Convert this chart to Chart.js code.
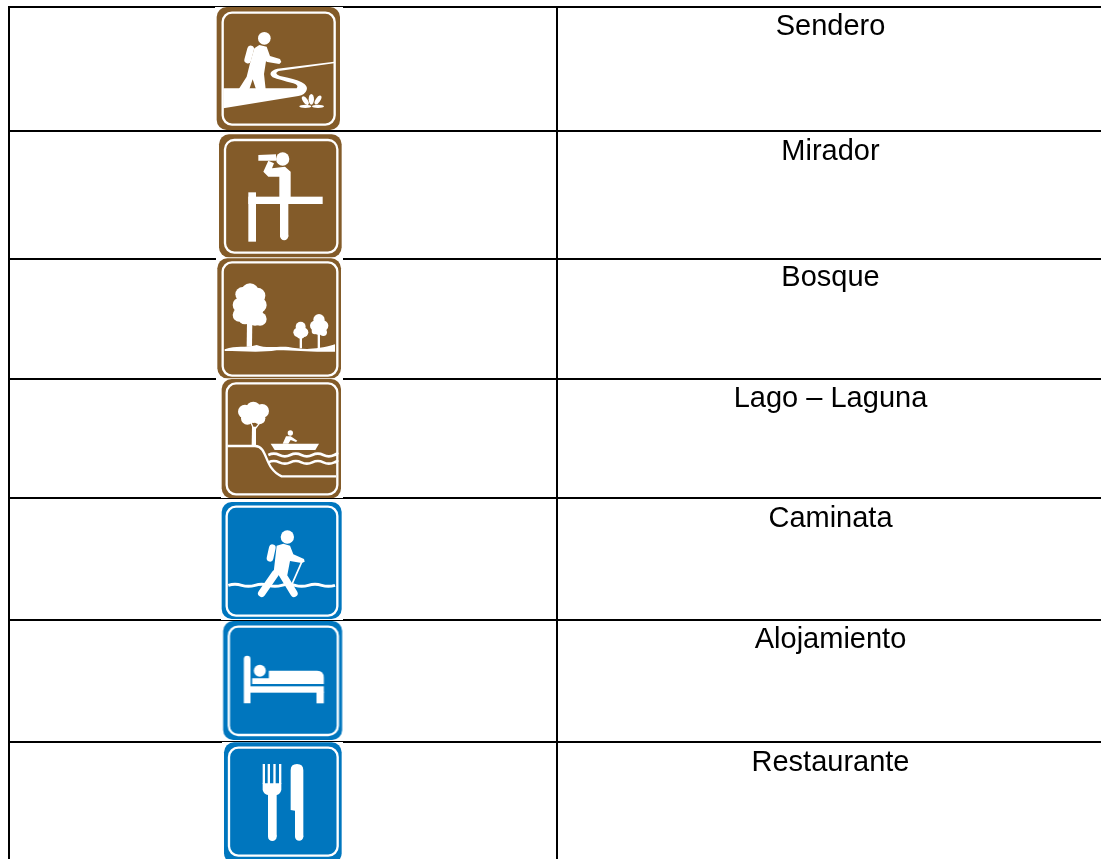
<!DOCTYPE html>
<html>
<head>
<meta charset="utf-8">
<style>html,body{margin:0;padding:0;background:#fff}canvas{display:block}</style>
<script src="https://cdn.jsdelivr.net/npm/chart.js@4"></script>
</head>
<body>
<canvas id="c" width="1101" height="859"></canvas>
<script>
const placeNames = ['Sendero','Mirador','Bosque','Lago – Laguna','Caminata','Alojamiento','Restaurante'];
const rowEdges = [7,131,259,379,498,620,742];
const columnEdges = [9,557];
const labelColumn = [830.5,830.5,830.5,830.5,830.5,830.5,830.5];
const labelBaselines = [35,160,286,407,527,648,771];
const iconCentreX = [279,280,279.5,282,282,282.5,282.5];
const iconCentreY = [68.5,195.5,319,438.5,560.5,680.5,800.5];

const BROWN = '#835B29', BLUE = '#0076BE';
function sign(w,h,x0,y0,ox,oy,col,box,inner,glyph){
  const cv=document.createElement('canvas');cv.width=w;cv.height=h;
  const g=cv.getContext('2d');
  g.fillStyle='#fff';g.fillRect(0,0,w,h);
  g.translate(ox-x0,oy-y0);g.scale(1/3,1/3);
  g.fillStyle=col;g.beginPath();g.roundRect(box[0],box[1],box[2]-box[0],box[3]-box[1],30);g.fill();
  g.strokeStyle='#fff';g.lineWidth=7;g.beginPath();g.roundRect(inner[0],inner[1],inner[2]-inner[0],inner[3]-inner[1],28);g.stroke();
  g.fillStyle='#fff';g.strokeStyle='#fff';g.lineCap='round';g.lineJoin='round';
  glyph(g);
  return cv;
}
const dot=(g,x,y,r)=>{g.beginPath();g.arc(x,y,r,0,7);g.fill();};
const dots=(g,a)=>a.forEach(d=>dot(g,d[0],d[1],d[2]));
const poly=(g,p)=>{g.beginPath();p.forEach((q,i)=>i?g.lineTo(q[0],q[1]):g.moveTo(q[0],q[1]));g.closePath();g.fill();};
const seg=(g,p,w)=>{g.lineWidth=w;g.beginPath();p.forEach((q,i)=>i?g.lineTo(q[0],q[1]):g.moveTo(q[0],q[1]));g.stroke();};
const wave=(g,x1,x2,y,amp,step,w)=>{g.lineWidth=w;g.lineCap='butt';g.beginPath();g.moveTo(x1,y);let up=true;
  for(let x=x1;x<x2;x+=step){g.quadraticCurveTo(x+step/2,y+(up?-amp:amp),Math.min(x+step,x2),y);up=!up;}g.stroke();g.lineCap='round';};
const ell=(g,x,y,a,b,r)=>{g.beginPath();g.ellipse(x,y,a,b,r,0,7);g.fill();};

const icons=[
 sign(128,123,215,7,200,0,BROWN,[50,21,420,390],[68,38,404,374],g=>{
  dot(g,193,115,19);
  seg(g,[[152,147],[143,180]],20);
  poly(g,[[163,145],[178,135],[200,140],[210,168],[240,177],[244,186],[238,192],[202,186],[198,184],[192,222],[197,268],[168,268],[158,238],[148,268],[116,268],[140,230],[150,190]]);
  g.beginPath();g.moveTo(70,265);g.lineTo(290,265);
  g.quadraticCurveTo(298,256,280,250);g.quadraticCurveTo(240,240,218,232);
  g.quadraticCurveTo(200,216,232,206);g.lineTo(402,185);g.lineTo(402,190);g.lineTo(236,213);
  g.quadraticCurveTo(220,220,240,228);g.quadraticCurveTo(330,245,320,270);g.quadraticCurveTo(315,285,295,288);
  g.lineTo(70,325);g.closePath();g.fill();
  ell(g,334,298,8,16,0);ell(g,316,302,7,15,-0.6);ell(g,354,300,7,15,0.6);
  ell(g,316,319,18,5,0);ell(g,354,319,18,5,0);
 }),
 sign(126,125,217,133,200,0,BROWN,[57,403,425,772],[75,420,412,758],g=>{
  dot(g,248,477,20);
  poly(g,[[175,465],[228,463],[228,482],[175,482]]);
  poly(g,[[205,482],[222,490],[216,505],[255,500],[272,515],[272,595],[238,595],[238,530],[205,530],[190,515]]);
  g.fillRect(145,590,223,22);
  g.fillRect(145,577,23,148);
  g.fillRect(240,590,25,120);dot(g,252.5,708,12.5);
 }),
 sign(127,122,216,258,200,255,BROWN,[52,10,423,370],[68,22,412,362],g=>{
  dots(g,[[150,112,27],[128,118,22],[172,122,24],[120,150,22],[178,150,22],[118,180,20],[180,192,20],[150,155,42],[135,188,20],[165,192,20]]);
  poly(g,[[141,195],[157,195],[156,275],[140,275]]);
  dots(g,[[302,215,15],[294,232,14],[311,232,14],[302,238,13]]);
  poly(g,[[299,240],[306,240],[306,280],[299,280]]);
  dots(g,[[357,194,17],[345,212,15],[369,212,16],[357,222,18],[370,232,11],[345,228,10]]);
  poly(g,[[353,225],[360,225],[360,285],[353,285]]);
  g.beginPath();g.moveTo(74,283);g.bezierCurveTo(110,270,135,280,170,270);g.bezierCurveTo(200,282,240,272,265,276);
  g.bezierCurveTo(300,282,340,288,405,268);g.lineTo(405,290);g.bezierCurveTo(320,292,300,286,230,286);g.bezierCurveTo(180,294,120,288,74,288);g.closePath();g.fill();
 }),
 sign(122,119,221,379,200,255,BROWN,[65,372,423,730],[80,385,412,718],g=>{
  dots(g,[[135,470,21],[160,462,22],[186,468,21],[142,490,19],[178,490,18],[160,480,24]]);
  poly(g,[[156,515],[168,515],[168,572],[155,572]]);
  seg(g,[[152,500],[162,525]],4);seg(g,[[178,505],[163,525]],4);
  g.lineCap='butt';g.lineWidth=7;g.beginPath();g.moveTo(82,573);g.lineTo(165,573);g.bezierCurveTo(205,573,190,640,245,664);g.lineTo(408,664);g.stroke();g.lineCap='round';
  poly(g,[[212,566],[357,566],[346,585],[224,585]]);
  dot(g,271,534,8);
  poly(g,[[248,566],[258,544],[272,544],[292,557],[288,561],[272,555],[265,566]]);
  wave(g,205,405,600,8,33,8);wave(g,205,405,622,8,33,8);
 }),
 sign(122,119,221,501,200,495,BLUE,[65,21,425,372],[80,35,412,362],g=>{
  dot(g,262,126,20);
  seg(g,[[217,158],[210,190]],20);
  poly(g,[[230,152],[250,146],[270,152],[280,178],[312,192],[314,200],[305,204],[270,198],[262,240],[220,240]]);
  seg(g,[[226,236],[185,295]],22);seg(g,[[246,236],[282,295]],22);
  seg(g,[[307,197],[277,265]],5);
  wave(g,85,405,271,6,40,9);
 }),
 sign(122,119,221,621,200,495,BLUE,[68,378,425,735],[85,395,412,720],g=>{
  g.beginPath();g.roundRect(130,482,20,143,[10,10,0,0]);g.fill();
  dot(g,178,527,18);
  g.beginPath();g.moveTo(205,527);g.lineTo(350,527);g.quadraticCurveTo(370,527,370,548);g.lineTo(370,567);g.lineTo(155,567);g.lineTo(155,550);g.lineTo(205,550);g.closePath();g.fill();
  g.fillRect(150,574,220,19);
  g.fillRect(348,590,22,35);
 }),
 sign(121,117,222,742,200,735,BLUE,[72,22,425,385],[87,38,413,362],g=>{
  g.fillRect(188,87,7,60);g.fillRect(203,87,7,60);g.fillRect(220,87,7,60);g.fillRect(237,87,7,60);
  g.beginPath();g.moveTo(188,145);g.lineTo(244,145);g.lineTo(244,165);g.quadraticCurveTo(240,178,230,180);g.lineTo(204,180);g.quadraticCurveTo(192,178,188,165);g.closePath();g.fill();
  g.fillRect(204,175,26,130);dot(g,217,305,13);
  g.beginPath();g.moveTo(272,106);g.quadraticCurveTo(272,87,291,87);g.quadraticCurveTo(310,87,310,106);g.lineTo(310,305);g.lineTo(285,305);g.lineTo(285,227);g.lineTo(272,225);g.closePath();g.fill();
  dot(g,297.5,305,12.5);
 })
];

const labelPlugin={id:'rowLabels',afterDatasetsDraw(chart){
  const ctx=chart.ctx,meta=chart.getDatasetMeta(1);
  ctx.save();ctx.font='29px "Liberation Sans", Arial, sans-serif';ctx.fillStyle='#000';
  ctx.textAlign='center';ctx.textBaseline='alphabetic';
  meta.data.forEach((pt,i)=>ctx.fillText(placeNames[i],pt.x,pt.y));
  ctx.restore();
}};
const gridAxis=(min,max,edges,extra)=>Object.assign({type:'linear',min,max,
  afterBuildTicks(s){s.ticks=edges.map(v=>({value:v}));},
  ticks:{display:false,autoSkip:false},border:{display:false},
  grid:{color:'#000',lineWidth:2,drawTicks:false}},extra||{});

new Chart(document.getElementById('c'),{
  type:'scatter',
  data:{datasets:[
    {label:'Señal',data:iconCentreX.map((x,i)=>({x,y:iconCentreY[i]})),pointStyle:icons,pointRadius:4,clip:false},
    {label:'Nombre',data:labelColumn.map((x,i)=>({x,y:labelBaselines[i]})),pointRadius:0,clip:false}
  ]},
  options:{responsive:false,animation:false,events:[],
    layout:{autoPadding:false,padding:{left:8,top:6,right:0,bottom:0}},
    plugins:{legend:{display:false},tooltip:{enabled:false},title:{display:false}},
    scales:{x:gridAxis(8,1101,columnEdges),y:gridAxis(6,859,rowEdges,{reverse:true})}
  },
  plugins:[labelPlugin]
});
</script>
</body>
</html>
